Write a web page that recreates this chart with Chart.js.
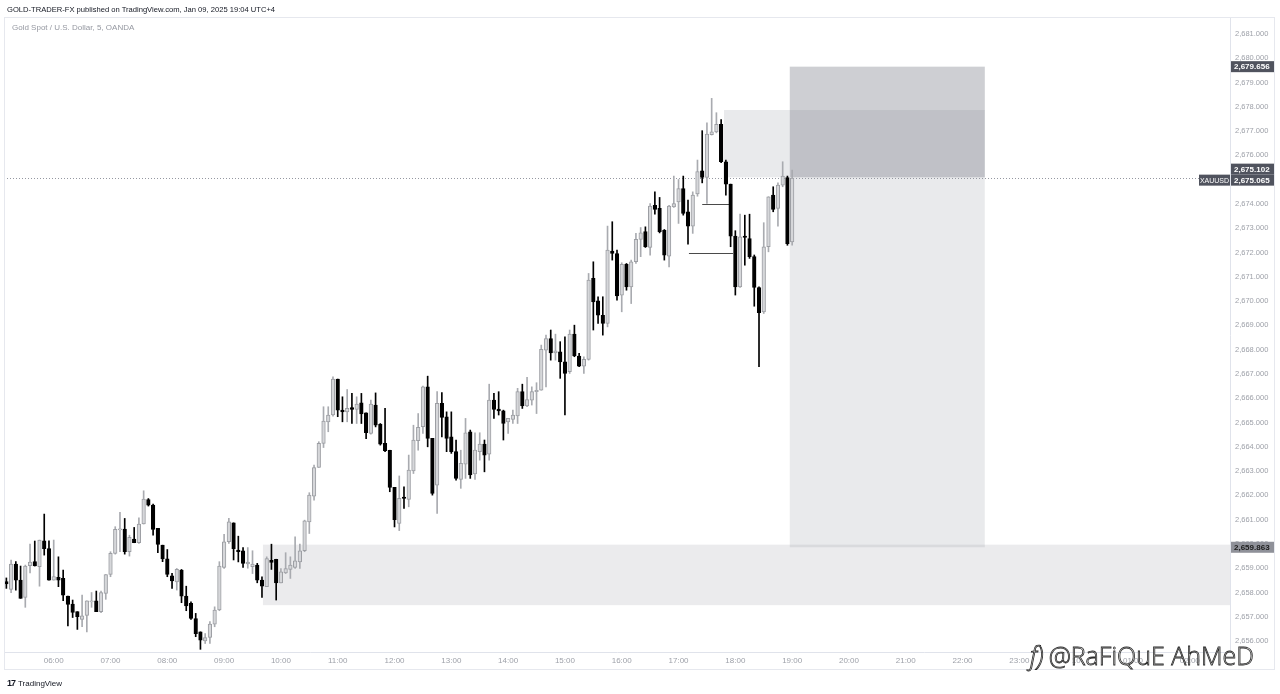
<!DOCTYPE html>
<html>
<head>
<meta charset="utf-8">
<script src="https://cdn.jsdelivr.net/npm/chart.js@4.4.1/dist/chart.umd.min.js"></script>
<style>
  html, body { margin: 0; padding: 0; background: #fff; }
  body { width: 1280px; height: 694px; position: relative; overflow: hidden; font-family: "Liberation Sans", Arial, sans-serif; }
  #chart { position: absolute; left: 0; top: 0; }
  .frame { position: absolute; left: 4px; top: 17px; width: 1271px; height: 653px; border: 1px solid #e6e8ee; box-sizing: border-box; pointer-events: none; }
  .hdr { position: absolute; left: 7px; top: 5px; font-size: 7.6px; color: #131722; white-space: nowrap; }
  .sym { position: absolute; left: 12px; top: 23px; font-size: 8px; color: #9598a1; white-space: nowrap; }
  .tv { position: absolute; left: 7px; top: 678px; font-size: 8px; color: #131722; white-space: nowrap; }
  .tv b { font-size: 9px; letter-spacing: -1px; margin-right: 3px; }
  .wm { position: absolute; left: 1030px; top: 638px; font-family: "Open Sans", sans-serif; font-size: 25px; font-weight: 300;
        color: rgba(255,255,255,0.75); -webkit-text-stroke: 0.8px #2a2a2a; white-space: nowrap; }
  .wm .ic { display: inline-block; font-style: italic; margin-right: 5px; }
</style>
</head>
<body>
<canvas id="chart" width="1280" height="694"></canvas>
<div class="frame"></div>
<div class="hdr">GOLD-TRADER-FX published on TradingView.com, Jan 09, 2025 19:04 UTC+4</div>
<div class="sym">Gold Spot / U.S. Dollar, 5, OANDA</div>
<div class="tv"><b>17</b>TradingView</div>
<div class="wm"><span class="ic">f)</span>@RaFiQuE AhMeD</div>
<script>
// 5-minute candles, 05:10 -> 19:00 on Jan 09, then empty slots to the right
const opens = [
  2658.45, 2658.13, 2659.17, 2658.51, 2657.80, 2659.11, 2659.27, 2659.06, 2660.13, 2659.81,
  2658.51, 2658.62, 2658.58, 2657.85, 2657.52, 2657.21, 2656.89, 2657.06, 2657.61, 2657.66,
  2657.21, 2657.96, 2658.74, 2659.61, 2660.58, 2660.61, 2659.68, 2660.20, 2660.05, 2660.82,
  2661.83, 2661.60, 2660.64, 2659.95, 2659.39, 2658.69, 2658.44, 2658.92, 2657.85, 2657.55,
  2656.93, 2656.38, 2656.01, 2656.15, 2656.70, 2657.28, 2659.03, 2660.09, 2660.87, 2659.75,
  2659.72, 2659.18, 2659.06, 2659.13, 2658.51, 2658.24, 2659.33, 2659.37, 2658.40, 2658.81,
  2658.95, 2659.03, 2659.26, 2659.72, 2660.91, 2661.97, 2663.15, 2664.14, 2665.03, 2665.31,
  2666.79, 2665.51, 2665.44, 2665.62, 2665.54, 2665.81, 2665.40, 2664.55, 2665.72, 2664.93,
  2664.14, 2663.86, 2662.33, 2660.85, 2661.93, 2661.83, 2663.01, 2664.25, 2664.83, 2666.47,
  2664.35, 2662.42, 2665.79, 2665.24, 2664.41, 2663.80, 2662.66, 2663.29, 2664.62, 2662.88,
  2663.80, 2664.11, 2663.70, 2665.92, 2665.55, 2665.48, 2665.03, 2665.13, 2665.27, 2666.27,
  2665.68, 2665.92, 2666.27, 2666.33, 2667.98, 2668.46, 2667.87, 2667.91, 2667.50, 2667.09,
  2668.64, 2667.74, 2667.32, 2667.60, 2670.94, 2670.01, 2669.42, 2669.08, 2672.06, 2671.96,
  2670.25, 2671.52, 2670.59, 2671.62, 2672.54, 2672.86, 2672.21, 2673.95, 2673.82, 2672.92,
  2671.85, 2673.88, 2674.09, 2674.64, 2673.68, 2673.09, 2674.41, 2675.37, 2675.09, 2676.86,
  2676.97, 2677.28, 2675.74, 2674.82, 2672.68, 2670.59, 2672.68, 2672.58, 2671.83, 2670.56,
  2669.56, 2672.24, 2674.37, 2673.82, 2674.78, 2675.09, 2672.44
];
const highs = [
  2658.60, 2659.34, 2659.27, 2659.09, 2659.13, 2659.99, 2660.12, 2660.16, 2661.23, 2660.13,
  2660.16, 2659.47, 2658.92, 2657.85, 2657.69, 2657.21, 2657.89, 2657.66, 2658.00, 2658.06,
  2658.06, 2658.74, 2659.68, 2660.71, 2661.30, 2661.05, 2660.36, 2660.68, 2661.08, 2662.19,
  2661.87, 2661.64, 2660.64, 2659.95, 2659.77, 2658.79, 2658.99, 2658.95, 2658.26, 2657.62,
  2657.14, 2656.38, 2656.31, 2656.80, 2657.41, 2659.27, 2660.40, 2661.05, 2660.87, 2660.32,
  2659.85, 2659.85, 2659.72, 2659.20, 2658.65, 2659.47, 2659.99, 2659.37, 2658.99, 2659.64,
  2659.47, 2660.29, 2659.99, 2660.98, 2662.11, 2663.25, 2664.21, 2665.65, 2665.65, 2666.88,
  2666.79, 2666.06, 2666.36, 2666.20, 2666.06, 2666.20, 2665.40, 2665.92, 2666.22, 2664.96,
  2665.58, 2663.86, 2662.33, 2662.80, 2662.35, 2663.66, 2664.89, 2665.37, 2666.50, 2666.91,
  2664.35, 2666.27, 2666.23, 2665.44, 2665.44, 2664.28, 2663.86, 2665.17, 2664.69, 2664.58,
  2664.58, 2664.28, 2666.58, 2666.20, 2666.27, 2665.51, 2665.17, 2665.51, 2666.41, 2666.58,
  2666.86, 2666.47, 2666.64, 2668.19, 2668.60, 2668.81, 2668.64, 2668.33, 2668.53, 2668.81,
  2669.01, 2667.85, 2667.71, 2671.14, 2671.62, 2670.18, 2670.18, 2673.09, 2673.27, 2672.10,
  2671.58, 2671.55, 2671.69, 2672.79, 2673.03, 2673.06, 2674.02, 2674.50, 2674.27, 2672.95,
  2673.95, 2675.15, 2675.01, 2675.15, 2674.16, 2674.50, 2675.81, 2677.02, 2677.34, 2678.35,
  2677.76, 2677.48, 2675.81, 2674.82, 2672.90, 2673.58, 2673.54, 2673.58, 2671.90, 2670.59,
  2673.23, 2674.30, 2674.71, 2674.87, 2675.74, 2675.15, 2675.40
];
const lows = [
  2658.17, 2657.99, 2658.10, 2657.76, 2657.39, 2658.81, 2659.09, 2658.26, 2659.54, 2658.51,
  2658.51, 2658.24, 2657.66, 2656.62, 2656.97, 2656.48, 2656.59, 2656.38, 2657.39, 2657.21,
  2657.17, 2657.72, 2658.65, 2659.58, 2659.68, 2659.58, 2659.50, 2660.05, 2660.02, 2660.82,
  2661.56, 2660.36, 2659.64, 2659.27, 2658.65, 2658.17, 2658.10, 2657.58, 2657.25, 2656.89,
  2656.18, 2655.66, 2655.90, 2655.90, 2656.59, 2657.25, 2658.99, 2660.02, 2659.34, 2659.26,
  2659.03, 2659.00, 2658.78, 2658.40, 2657.80, 2658.24, 2658.95, 2657.69, 2658.40, 2658.78,
  2658.58, 2658.99, 2658.99, 2659.68, 2660.43, 2661.80, 2663.15, 2663.97, 2664.62, 2665.26,
  2665.24, 2665.03, 2665.03, 2664.96, 2664.96, 2664.96, 2664.34, 2664.52, 2664.82, 2664.07,
  2663.80, 2662.15, 2660.70, 2660.55, 2661.46, 2661.53, 2662.90, 2663.86, 2664.55, 2664.00,
  2662.01, 2661.26, 2664.41, 2663.80, 2663.73, 2662.63, 2662.29, 2662.70, 2662.70, 2662.66,
  2663.45, 2662.97, 2663.45, 2665.17, 2665.31, 2664.28, 2664.55, 2664.96, 2664.96, 2665.58,
  2665.65, 2665.72, 2665.37, 2666.33, 2666.47, 2667.57, 2667.57, 2666.82, 2665.31, 2667.02,
  2667.71, 2667.30, 2667.02, 2667.57, 2668.81, 2669.08, 2668.60, 2668.94, 2671.69, 2670.04,
  2669.56, 2670.45, 2669.90, 2671.55, 2671.83, 2672.21, 2671.89, 2673.58, 2672.81, 2671.69,
  2671.41, 2673.86, 2673.20, 2673.54, 2672.35, 2672.79, 2674.32, 2674.87, 2674.02, 2676.84,
  2676.93, 2675.70, 2674.36, 2672.24, 2670.25, 2670.56, 2671.48, 2671.76, 2669.79, 2667.30,
  2669.49, 2672.03, 2673.68, 2673.09, 2674.71, 2672.30, 2672.30
];
const closes = [
  2658.35, 2659.17, 2658.51, 2657.76, 2659.09, 2659.25, 2659.09, 2660.16, 2659.81, 2658.51,
  2658.66, 2658.51, 2657.89, 2657.51, 2657.18, 2657.00, 2657.04, 2657.66, 2657.66, 2657.21,
  2658.00, 2658.74, 2659.61, 2660.60, 2660.62, 2659.68, 2660.27, 2660.05, 2660.82, 2661.85,
  2661.60, 2660.60, 2659.98, 2659.38, 2658.74, 2658.48, 2658.95, 2657.85, 2657.45, 2656.93,
  2656.31, 2656.04, 2656.14, 2656.70, 2657.28, 2659.09, 2660.09, 2660.91, 2659.81, 2659.68,
  2659.20, 2659.25, 2659.17, 2658.51, 2658.26, 2659.40, 2659.24, 2658.40, 2658.85, 2658.99,
  2659.13, 2659.30, 2659.72, 2660.95, 2662.01, 2663.15, 2664.14, 2665.06, 2665.31, 2666.79,
  2665.51, 2665.44, 2665.58, 2665.54, 2665.76, 2665.35, 2664.58, 2665.76, 2664.89, 2664.11,
  2663.84, 2662.33, 2661.00, 2661.88, 2661.88, 2663.04, 2664.28, 2664.80, 2666.47, 2664.35,
  2662.08, 2665.79, 2665.21, 2664.35, 2663.80, 2662.70, 2663.32, 2664.58, 2662.84, 2663.87,
  2664.11, 2663.66, 2665.92, 2665.54, 2665.48, 2664.96, 2665.17, 2665.31, 2666.27, 2665.68,
  2665.95, 2666.27, 2666.33, 2668.01, 2668.46, 2667.87, 2667.95, 2667.50, 2667.02, 2668.64,
  2667.74, 2667.32, 2667.60, 2670.87, 2669.97, 2669.42, 2669.08, 2672.10, 2671.96, 2670.21,
  2671.52, 2670.59, 2671.62, 2672.54, 2672.81, 2672.24, 2673.91, 2673.78, 2672.86, 2671.89,
  2673.91, 2674.02, 2674.64, 2673.61, 2673.09, 2674.37, 2675.33, 2675.09, 2676.88, 2676.97,
  2677.28, 2675.74, 2674.82, 2672.68, 2670.59, 2672.65, 2672.62, 2671.83, 2670.56, 2669.52,
  2672.24, 2674.30, 2673.78, 2674.78, 2675.15, 2672.37, 2675.065
];

const slotCount = 259;          // 5-minute slots shown on the time axis
const startMinutes = 5 * 60 + 10; // 05:10
const hourLabels = ["06:00", "07:00", "08:00", "09:00", "10:00", "11:00", "12:00", "13:00", "14:00",
  "15:00", "16:00", "17:00", "18:00", "19:00", "20:00", "21:00", "22:00", "23:00", "10", "01:00", "02:00"];
const priceTicks = [2656, 2657, 2658, 2659, 2660, 2661, 2662, 2663, 2664, 2665, 2666, 2667, 2668,
  2669, 2670, 2671, 2672, 2673, 2674, 2675, 2676, 2677, 2678, 2679, 2680, 2681];
const lastPrice = 2675.065;

// position tool + zone (candle index range, price range)
const boxes = [
  { kind: "zone", from: 54.2, to: null, top: 2659.97, bottom: 2657.48 },
  { kind: "light", from: 151.6, to: 206.7, top: 2677.87, bottom: 2675.102 },
  { kind: "stop", from: 165.5, to: 206.7, top: 2679.656, bottom: 2675.102 },
  { kind: "light", from: 165.5, to: 206.7, top: 2675.102, bottom: 2659.863 },
];
const levels = [
  { from: 147, to: 153.1, price: 2674.00 },
  { from: 144.2, to: 153.5, price: 2671.98 },
];
const priceTags = [2679.656, 2675.102, 2675.065, 2659.863];

const timeLabels = [];
for (let i = 0; i < slotCount; i++) {
  const m = (startMinutes + i * 5) % (24 * 60);
  const hh = String(Math.floor(m / 60)).padStart(2, "0");
  const mm = String(m % 60).padStart(2, "0");
  timeLabels.push(hh === "00" && mm === "00" ? "10" : `${hh}:${mm}`);
}

const isUp = (i) => closes[i] >= opens[i];
const fmt = (v) => v.toLocaleString("en-US", { minimumFractionDigits: 3, maximumFractionDigits: 3 });

const overlay = {
  id: "overlay",
  beforeDatasetsDraw(chart) {
    const { ctx, chartArea: a, scales: { x, y } } = chart;
    const shade = {
      zone: "rgba(120, 123, 134, 0.15)",
      light: "rgba(120, 123, 134, 0.16)",
      stop: "rgba(120, 123, 134, 0.36)",
    };
    ctx.save();
    boxes.forEach((b) => {
      const x1 = x.getPixelForValue(b.from);
      const x2 = b.to === null ? a.right : x.getPixelForValue(b.to);
      const y1 = y.getPixelForValue(b.top);
      const y2 = y.getPixelForValue(b.bottom);
      ctx.fillStyle = shade[b.kind];
      ctx.fillRect(x1, y1, x2 - x1, y2 - y1);
    });

    const yl = Math.round(y.getPixelForValue(lastPrice)) + 0.5;
    ctx.strokeStyle = "#9598a1";
    ctx.lineWidth = 1;
    ctx.setLineDash([1, 2]);
    ctx.beginPath();
    ctx.moveTo(a.left, yl);
    ctx.lineTo(a.right, yl);
    ctx.stroke();
    ctx.setLineDash([]);

    ctx.strokeStyle = "#4a4a4a";
    levels.forEach((l) => {
      const py = Math.round(y.getPixelForValue(l.price)) + 0.5;
      ctx.beginPath();
      ctx.moveTo(x.getPixelForValue(l.from), py);
      ctx.lineTo(x.getPixelForValue(l.to), py);
      ctx.stroke();
    });
    ctx.restore();
  },
  afterDraw(chart) {
    const { ctx, chartArea: a, scales: { y } } = chart;
    ctx.save();
    ctx.font = "bold 8px 'Liberation Sans', Arial, sans-serif";
    ctx.textBaseline = "middle";
    // lay tags out from the bottom up so close prices do not overlap
    const tags = priceTags.map((p) => ({ p, py: y.getPixelForValue(p) + (p === lastPrice ? 2 : 0) }))
      .sort((m, n) => n.py - m.py);
    for (let i = 1; i < tags.length; i++) {
      if (tags[i - 1].py - tags[i].py < 11) tags[i].py = tags[i - 1].py - 11;
    }
    tags.forEach((t) => {
      const grey = t.p === 2659.863;
      ctx.fillStyle = grey ? "#8f9199" : "#50535e";
      ctx.fillRect(a.right + 1, t.py - 5.5, 44, 11);
      ctx.fillStyle = grey ? "#1c1c1c" : "#ffffff";
      ctx.textAlign = "left";
      ctx.fillText(fmt(t.p), a.right + 4, t.py + 0.5);
      if (t.p === lastPrice) {
        ctx.fillStyle = "#50535e";
        ctx.fillRect(a.right - 31, t.py - 5.5, 31, 11);
        ctx.fillStyle = "#ffffff";
        ctx.font = "7px 'Liberation Sans', Arial, sans-serif";
        ctx.textAlign = "center";
        ctx.fillText("XAUUSD", a.right - 15.5, t.py + 0.5);
        ctx.font = "bold 8px 'Liberation Sans', Arial, sans-serif";
      }
    });
    ctx.restore();
  },
};

Chart.defaults.font.family = "'Liberation Sans', Arial, sans-serif";

new Chart(document.getElementById("chart"), {
  type: "bar",
  data: {
    labels: timeLabels,
    datasets: [
      {
        label: "body",
        data: opens.map((o, i) => [o, closes[i]]),
        grouped: false,
        order: 0,
        barThickness: 3.6,
        minBarLength: 1,
        borderSkipped: false,
        borderWidth: 1,
        backgroundColor: (c) => (isUp(c.dataIndex) ? "#d6d7da" : "#000000"),
        borderColor: (c) => (isUp(c.dataIndex) ? "#9c9ea3" : "#000000"),
      },
      {
        label: "wick",
        data: lows.map((l, i) => [l, highs[i]]),
        grouped: false,
        order: 1,
        barThickness: 1,
        borderWidth: 0,
        backgroundColor: (c) => (isUp(c.dataIndex) ? "#a9abb0" : "#000000"),
      },
    ],
  },
  options: {
    responsive: false,
    animation: false,
    events: [],
    layout: { padding: { left: 4, top: 18, right: 0, bottom: 24 } },
    plugins: { legend: { display: false }, tooltip: { enabled: false } },
    scales: {
      x: {
        offset: true,
        grid: { display: false, drawTicks: false },
        border: { display: true, color: "#e0e3eb" },
        afterFit: (s) => { s.height = 18; },
        ticks: {
          autoSkip: false,
          maxRotation: 0,
          minRotation: 0,
          padding: 4,
          color: "#9ea1a9",
          font: { size: 8 },
          callback(value) {
            const lab = this.getLabelForValue(value);
            return hourLabels.includes(lab) ? lab : "";
          },
        },
      },
      y: {
        position: "right",
        min: 2655.55,
        max: 2681.66,
        grid: { display: false, drawTicks: false },
        border: { display: true, color: "#e0e3eb" },
        afterFit: (s) => { s.width = 50; },
        afterBuildTicks: (s) => { s.ticks = priceTicks.map((v) => ({ value: v })); },
        ticks: {
          padding: 5,
          color: "#9ea1a9",
          font: { size: 7.5 },
          callback: (v) => fmt(v),
        },
      },
    },
  },
  plugins: [overlay],
});
</script>
</body>
</html>
